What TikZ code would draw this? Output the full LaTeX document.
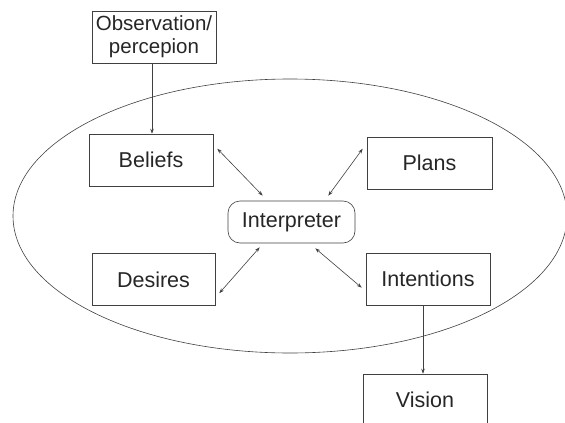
\documentclass[tikz,border=0pt]{standalone}
\usepackage{fontspec}
\setmainfont{Liberation Sans}
\usetikzlibrary{arrows.meta,calc}
\begin{document}
\begin{tikzpicture}[x=1pt,y=-1pt,
  line width=0.6pt,
  every node/.style={text=black!85},
  box/.style={draw=black!75, minimum width=124pt, minimum height=52pt, inner sep=0pt, font=\fontsize{21.5}{24}\selectfont, align=center},
  ibox/.style={draw=black!75, rounded corners=12pt, minimum width=127pt, minimum height=42pt, inner sep=0pt, font=\fontsize{21.5}{24}\selectfont},
  arr/.style={draw=black!75, {Stealth[length=5pt,width=3.5pt]}-{Stealth[length=5pt,width=3.5pt]}},
  arr1/.style={draw=black!75, -{Stealth[length=5pt,width=3.5pt]}}]
\useasboundingbox (0,0) rectangle (565,423);
\draw[black!75] (290,216) ellipse [x radius=277, y radius=137];
\node[box, font=\fontsize{20.5}{23}\selectfont] (o) at (154,37) {Observation/\\percepion};
\node[box] (b) at (151,160) {Beliefs};
\node[box, minimum width=125pt] (p) at (429.5,163) {Plans};
\node[box] (in) at (428,279) {Intentions};
\node[box, minimum width=123pt] (d) at (153.5,279.5) {Desires};
\node[box] (v) at (425,400) {Vision};
\node[ibox] (i) at (291.5,222) {Interpreter};
\draw[arr1] ([xshift=-2pt]o.south) -- ([xshift=-2pt]o.south |- b.north);
\draw[arr1] ([xshift=-5pt]in.south) -- ([xshift=-5pt]in.south |- v.north);
\draw[arr] ($(b.north east)+(4,15)$) -- ($(i.north west)+(35,-5)$);
\draw[arr] ($(i.north east)+(-27,-5)$) -- ($(p.north west)+(-4,12)$);
\draw[arr] ($(i.south west)+(32,4)$) -- ($(d.north east)+(4,40)$);
\draw[arr] ($(i.south east)+(-40,5)$) -- ($(in.north west)+(-4,35)$);
\end{tikzpicture}
\end{document}
